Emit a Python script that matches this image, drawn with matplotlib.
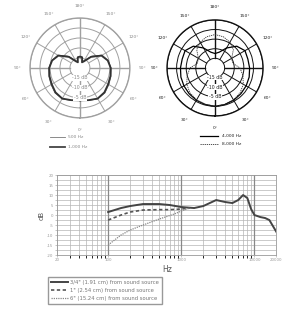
import numpy as np
import matplotlib
matplotlib.use('Agg')
import matplotlib.pyplot as plt

# polar patterns, angles 0..180 deg (mirrored), level in dB
ang_left = [0, 15, 30, 45, 60, 75, 90, 105, 120, 135, 150, 160, 168, 180]
db_500 = [-3.6, -3.1, -2.1, -2.3, -3.3, -3.9, -4.4, -5.4, -7.2, -11.6, -15.6, -16.6, -14.4, -14.2]
db_1000 = [-3.8, -3.3, -2.3, -2.7, -3.7, -4.2, -4.6, -5.6, -7.6, -12.2, -16.3, -17.0, -14.6, -14.3]

ang_right = [0, 15, 30, 45, 60, 75, 90, 105, 120, 135, 150, 165, 180]
db_4000 = [0.0, -0.3, -0.6, -1.0, -1.3, -1.6, -2.0, -2.3, -2.0, -4.0, -8.0, -11.5, -12.5]
db_8000 = [0.0, -0.4, -0.8, -1.6, -3.0, -5.0, -7.0, -10.5, -10.0, -6.5, -4.5, -3.2, -2.6]

# frequency response
freq_near = [100, 150, 200, 300, 500, 700, 1000, 1500, 2000, 3000, 4000, 5000, 6000, 7000, 8000, 9000, 10000, 12000, 14000, 16000, 20000]
resp_near = [1.5, 3.5, 4.5, 5.5, 5.5, 5.0, 4.0, 3.5, 4.5, 7.5, 6.5, 6.0, 7.5, 10.0, 8.5, 3.0, 0.0, -1.0, -1.5, -2.5, -8.5]
freq_mid = [100, 150, 200, 300, 500, 700, 1000, 1300]
resp_mid = [-2.5, 0.0, 1.5, 2.5, 2.7, 2.7, 3.0, 3.5]
freq_far = [100, 150, 200, 300, 500, 800, 1000, 1300]
resp_far = [-15.0, -10.0, -7.5, -5.0, -2.0, 0.5, 2.0, 3.5]

legend_labels = ['3/4" (1.91 cm) from sound source',
                 '1" (2.54 cm) from sound source',
                 '6" (15.24 cm) from sound source']

ring_db = [-15, -10, -5, 0, 5]
angle_labels = ['0°', '30°', '60°', '90°', '120°', '150°', '180°',
                '150°', '120°', '90°', '60°', '30°']


def mirror(ang, db):
    a = np.array(ang, dtype=float)
    d = np.array(db, dtype=float)
    full_a = np.concatenate([a, 360 - a[::-1][1:]])
    full_d = np.concatenate([d, d[::-1][1:]])
    return np.deg2rad(full_a), full_d


def polar_frame(ax, col, tcol):
    ax.set_theta_zero_location('S')
    ax.set_rlim(-20, 5)
    ax.set_rticks(ring_db)
    ax.set_yticklabels([])
    ax.set_thetagrids(np.arange(0, 360, 30), angle_labels,
                      fontsize=3.2, color=tcol)
    ax.tick_params(axis='x', pad=-1.5)
    ax.yaxis.grid(True, color=col, lw=0.7)
    ax.xaxis.grid(False)
    ax.spines['polar'].set_color(col)
    ax.spines['polar'].set_linewidth(1.0)
    # spokes start on the inner circle
    for a in range(0, 360, 30):
        th = np.deg2rad(a)
        w = 1.0 if a % 90 == 0 else 0.7
        ax.plot([th, th], [-15, 5], color=col, lw=w)
    for d, lab in zip([-15, -10, -5], ['-15 dB', '-10 dB', '-5 dB']):
        ax.text(0, d, lab, fontsize=3.4, color=tcol, ha='center', va='center',
                bbox=dict(fc='white', ec='none', pad=0.3))


fig = plt.figure(figsize=(2.85, 3.16), dpi=100)

# left polar
axl = fig.add_axes([0.105, 0.627, 0.351, 0.316], projection='polar')
polar_frame(axl, '#a0a0a0', '#8a8a8a')
t, d = mirror(ang_left, db_500)
axl.plot(t, d, color='#555555', lw=0.6)
t, d = mirror(ang_left, db_1000)
axl.plot(t, d, color='#333333', lw=1.3)

fig.lines.append(plt.Line2D([0.175, 0.228], [0.566, 0.566], color='#777777', lw=0.6,
                            transform=fig.transFigure))
fig.lines.append(plt.Line2D([0.175, 0.228], [0.535, 0.535], color='#444444', lw=1.3,
                            transform=fig.transFigure))
fig.text(0.24, 0.566, '500 Hz', fontsize=3.2, color='#888888', va='center')
fig.text(0.24, 0.535, '1,000 Hz', fontsize=3.2, color='#888888', va='center')

# right polar
axr = fig.add_axes([0.586, 0.633, 0.337, 0.304], projection='polar')
polar_frame(axr, '#111111', '#222222')
t, d = mirror(ang_right, db_4000)
axr.plot(t, d, color='black', lw=0.9)
t, d = mirror(ang_right, db_8000)
axr.plot(t, d, color='#333333', lw=0.6, ls=(0, (1.5, 1)))

fig.lines.append(plt.Line2D([0.70, 0.765], [0.570, 0.570], color='black', lw=0.9,
                            transform=fig.transFigure))
fig.lines.append(plt.Line2D([0.70, 0.765], [0.544, 0.544], color='#333333', lw=0.6,
                            ls=(0, (1.5, 1)), transform=fig.transFigure))
fig.text(0.778, 0.570, '4,000 Hz', fontsize=3.2, color='#222222', va='center')
fig.text(0.778, 0.544, '8,000 Hz', fontsize=3.2, color='#222222', va='center')

# frequency response
ax = fig.add_axes([0.200, 0.193, 0.770, 0.253])
ax.set_xscale('log')
ax.set_xlim(20, 20000)
ax.set_ylim(-20, 20)
ax.set_yticks(np.arange(-20, 21, 2.5))
ax.set_yticklabels([('%g' % v) if v % 5 == 0 else '' for v in np.arange(-20, 21, 2.5)])
ax.set_xticks([20, 100, 1000, 10000, 20000])
ax.set_xticklabels(['20', '100', '1000', '10000', '20000'])
ax.tick_params(labelsize=2.8, colors='#999999', length=1.5, width=0.4, pad=1)
ax.grid(True, which='both', axis='x', color='#b5b5b5', lw=0.5)
ax.grid(True, axis='y', color='#b5b5b5', lw=0.5)
for f in [100, 1000, 10000]:
    ax.axvline(f, color='#888888', lw=0.9)
for s in ax.spines.values():
    s.set_color('#999999')
    s.set_linewidth(0.6)
ax.set_xlabel('Hz', fontsize=5.5, color='#555555', labelpad=2)
ax.set_ylabel('dB', fontsize=5, color='#555555', labelpad=2)

l1, = ax.plot(freq_near, resp_near, color='#444444', lw=1.4)
l2, = ax.plot(freq_mid, resp_mid, color='#555555', lw=1.2, ls=(0, (2, 1.5)))
l3, = ax.plot(freq_far, resp_far, color='#888888', lw=0.9, ls=(0, (1, 0.8)))

fig.legend([l1, l2, l3], legend_labels, loc='lower left',
           bbox_to_anchor=(0.160, 0.030), fontsize=3.8, frameon=True,
           fancybox=False, edgecolor='#999999', framealpha=1,
           handlelength=3.2, handletextpad=0.5, borderpad=0.5,
           labelspacing=0.6, labelcolor='#777777')

fig.savefig('out.png', dpi=100)
